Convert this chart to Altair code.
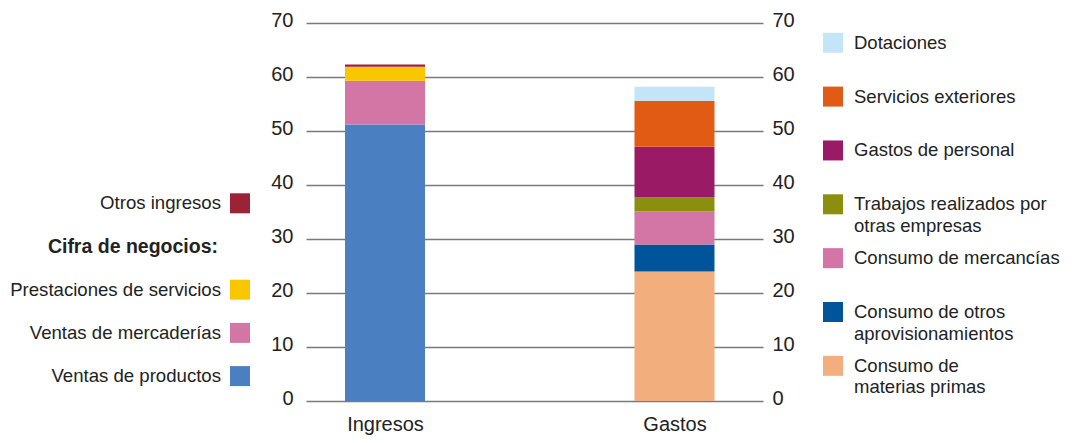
import altair as alt
import pandas as pd

FONT = "Liberation Sans"
TXT = "#222222"

bar_names = ["Ingresos", "Gastos"]

ingresos_items = ["Ventas de productos", "Ventas de mercaderías",
                  "Prestaciones de servicios", "Otros ingresos"]
ingresos_values = [51.2, 8.1, 2.6, 0.4]
ingresos_colors = ["#4A80C1", "#D375A5", "#F9C700", "#9A2336"]

gastos_items = ["Consumo de materias primas", "Consumo de otros aprovisionamientos",
                "Consumo de mercancías", "Trabajos realizados por otras empresas",
                "Gastos de personal", "Servicios exteriores", "Dotaciones"]
gastos_values = [24.0, 5.0, 6.1, 2.6, 9.4, 8.5, 2.6]
gastos_colors = ["#F2AE7C", "#00559A", "#D375A5", "#8A8F0E",
                 "#9A1A66", "#E25B14", "#C4E4F8"]

y_ticks = [0, 10, 20, 30, 40, 50, 60, 70]

left_legend_keys = ["Otros ingresos", "Cifra de negocios:", "Prestaciones de servicios",
                    "Ventas de mercaderías", "Ventas de productos"]
left_legend_title = "Cifra de negocios:"

right_legend_keys = ["Dotaciones", "Servicios exteriores", "Gastos de personal",
                     "Trabajos realizados por otras empresas", "Consumo de mercancías",
                     "Consumo de otros aprovisionamientos", "Consumo de materias primas"]
right_legend_line1 = ["Dotaciones", "Servicios exteriores", "Gastos de personal",
                      "Trabajos realizados por", "Consumo de mercancías",
                      "Consumo de otros", "Consumo de"]
right_legend_line2 = ["", "", "", "otras empresas", "", "aprovisionamientos",
                      "materias primas"]

# ---- tables ----
rows = []
for i, (k, v) in enumerate(zip(ingresos_items, ingresos_values)):
    rows.append({"bar": bar_names[0], "key": k, "value": v, "order": i})
for i, (k, v) in enumerate(zip(gastos_items, gastos_values)):
    rows.append({"bar": bar_names[1], "key": k, "value": v, "order": i})
bars_df = pd.DataFrame(rows)

color_domain = ingresos_items + gastos_items
color_range = ingresos_colors + gastos_colors
color_scale = alt.Scale(domain=color_domain, range=color_range)

left_df = pd.DataFrame({"key": left_legend_keys})
right_df = pd.DataFrame({"key": right_legend_keys, "line1": right_legend_line1,
                         "line2": right_legend_line2})
ticks_df = pd.DataFrame({"v": y_ticks})

y_scale = alt.Scale(domain=[0, 70], nice=False, zero=True)
x_enc = alt.X("bar:N", sort=bar_names,
              scale=alt.Scale(type="point", padding=0.2893, align=0.4716),
              axis=alt.Axis(title=None, labelAngle=0, ticks=False, domain=False,
                            labelFontSize=20, labelFont=FONT, labelColor=TXT,
                            labelPadding=13, grid=False))

bars = alt.Chart(bars_df).mark_bar(size=80).encode(
    x=x_enc,
    y=alt.Y("value:Q", stack="zero", scale=y_scale,
            axis=alt.Axis(title=None, values=y_ticks, orient="left", ticks=False,
                          domain=False, grid=True, gridColor="#7a7a7a",
                          gridWidth=1.3, labelFontSize=20, labelFont=FONT,
                          labelColor=TXT, labelPadding=13, labelOffset=-3)),
    color=alt.Color("key:N", scale=color_scale, legend=None),
    order=alt.Order("order:Q", sort="ascending"),
)

right_axis = alt.Chart(ticks_df).mark_point(opacity=0).encode(
    y=alt.Y("v:Q", scale=y_scale,
            axis=alt.Axis(title=None, values=y_ticks, orient="right", ticks=False,
                          domain=False, grid=False, labelFontSize=20, labelFont=FONT,
                          labelColor=TXT, labelPadding=9, labelOffset=-3)),
)

left_y = alt.Y("key:N", scale=alt.Scale(type="point", domain=left_legend_keys,
                                        range=[180.3, 353.1], padding=0), axis=None)

left_text = alt.Chart(left_df).transform_filter(
    alt.datum.key != left_legend_title
).mark_text(align="right", baseline="middle", fontSize=18.6, font=FONT,
            color=TXT).encode(x=alt.value(-85), y=left_y, text="key:N")

left_title = alt.Chart(left_df).transform_filter(
    alt.datum.key == left_legend_title
).mark_text(align="right", baseline="middle", fontSize=19.5, font=FONT,
            fontWeight="bold", color=TXT).encode(x=alt.value(-88), y=left_y,
                                                 text="key:N")

left_sq = alt.Chart(left_df).transform_filter(
    alt.datum.key != left_legend_title
).mark_square(size=400, opacity=1).encode(
    x=alt.value(-66), y=left_y,
    color=alt.Color("key:N", scale=color_scale, legend=None))

right_y = alt.Y("key:N", scale=alt.Scale(type="point", domain=right_legend_keys,
                                         range=[19.75, 342.85], padding=0), axis=None)

right_sq = alt.Chart(right_df).mark_square(size=400, opacity=1).encode(
    x=alt.value(527), y=right_y,
    color=alt.Color("key:N", scale=color_scale, legend=None))

right_t1 = alt.Chart(right_df).mark_text(
    align="left", baseline="middle", fontSize=18.5, font=FONT, color=TXT
).encode(x=alt.value(548), y=right_y, text="line1:N")

right_t2 = alt.Chart(right_df).mark_text(
    align="left", baseline="middle", fontSize=18.5, font=FONT, color=TXT, dy=21.5
).encode(x=alt.value(548), y=right_y, text="line2:N")

chart = alt.layer(
    bars, right_axis, left_text, left_title, left_sq, right_sq, right_t1, right_t2
).resolve_scale(y="independent").properties(
    width=457, height=378,
    autosize=alt.AutoSizeParams(type="none"),
    padding={"left": 298, "top": 15, "right": 306, "bottom": 34},
).configure(background="white").configure_view(stroke=None)

chart.save("out.html", embed_options={"renderer": "svg", "actions": False})
